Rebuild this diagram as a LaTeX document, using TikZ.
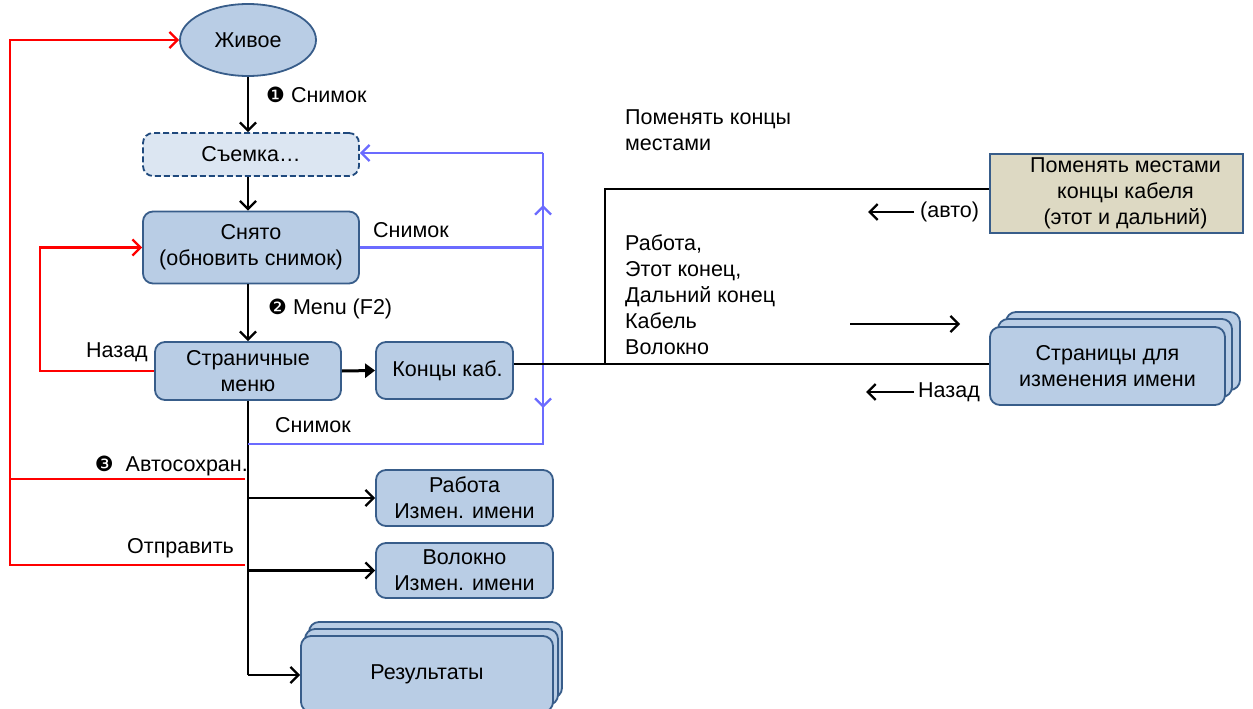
\documentclass[tikz,border=0pt]{standalone}
\usepackage{fontspec}
\setmainfont{Liberation Sans}
\newfontfamily\dingfont{DejaVu Sans}
\usetikzlibrary{shapes.geometric,arrows.meta,positioning}
\definecolor{boxfill}{HTML}{B9CDE5}
\definecolor{boxline}{HTML}{385D8A}
\definecolor{shotfill}{HTML}{DCE6F2}
\definecolor{shotline}{HTML}{1F497D}
\definecolor{swapfill}{HTML}{DDD9C3}
\definecolor{snapline}{HTML}{6B6BFF}
\definecolor{backline}{HTML}{FF0000}
\newcommand{\ding}[1]{{\dingfont\fontsize{21}{21}\selectfont#1}}
\begin{document}
\begin{tikzpicture}[x=1pt, y=-1pt, font=\fontsize{21.5}{26}\selectfont,
  state/.style={draw=boxline, fill=boxfill, line width=1.8pt, rounded corners=10pt, align=center, inner sep=2pt},
  flow/.style={line width=2.3pt, -{Straight Barb[length=8pt,width=16pt,line width=2.3pt]}},
  snap/.style={draw=snapline, line width=2.3pt},
  back/.style={draw=backline, line width=2.8pt},
  tip/.style={-{Straight Barb[length=8pt,width=16pt,line width=2.3pt]}},
  lbl/.style={inner sep=0pt}]
\useasboundingbox (0,0) rectangle (1253,709);

% main states
\node (live) at (248,40) [ellipse, draw=boxline, fill=boxfill, line width=1.8pt, minimum width=136pt, minimum height=72pt] {Живое};
\node (shot) at (251,154.5) [state, fill=shotfill, draw=shotline, dashed, dash pattern=on 6pt off 3pt, minimum width=216pt, minimum height=43pt] {Съемка…};
\node (taken) at (251,247.5) [state, minimum width=216pt, minimum height=72pt] {Снято\\(обновить снимок)};
\node (menu) at (248,371) [state, minimum width=186pt, minimum height=58pt] {Страничные\\меню};
\node (ends) at (444.5,370.5) [state, minimum width=137pt, minimum height=57pt] {\hspace*{6pt}Концы каб.};
\node (work) at (464.5,498) [state, minimum width=177pt, minimum height=56pt] {Работа\\Измен. имени};
\node (fiber) at (464.5,570.5) [state, minimum width=177pt, minimum height=55pt] {Волокно\\Измен. имени};

% results stack
\node (results3) at (435.5,660) [state, minimum width=253pt, minimum height=76pt] {};
\node (results2) at (431.5,667) [state, minimum width=253pt, minimum height=76pt] {};
\node (results) at (427,674) [state, minimum width=252pt, minimum height=76pt] {Результаты};

% right side
\node (swap) at (1116.5,193.5) [draw=boxline, fill=swapfill, line width=1.8pt, align=center, minimum width=253pt, minimum height=79pt] {\hspace*{18pt}Поменять местами\\\hspace*{18pt}концы кабеля\\\hspace*{18pt}(этот и дальний)};
\node (pages3) at (1123,351) [state, minimum width=234pt, minimum height=78pt] {};
\node (pages2) at (1115,358) [state, minimum width=234pt, minimum height=78pt] {};
\node (pages) at (1107.5,366) [state, minimum width=235pt, minimum height=78pt] {Страницы для\\изменения имени};

% main flow
\draw[flow] (live.south) -- (live.south |- shot.north);
\draw[flow] (shot.south -| live.south) -- (taken.north -| live.south);
\draw[flow] (taken.south -| live.south) -- (menu.north);
\draw[line width=3pt, -{Triangle[length=10pt,width=14pt]}] (menu.east) -- (ends.west);
\node (step1) [lbl, anchor=west] at (266,95) {\ding{❶} Снимок};
\node (step2) [lbl, anchor=west] at (268,309) {\ding{❷} Menu (F2)};

% trunk below the menu
\coordinate (trunkend) at (248,675);
\draw[line width=2.3pt] (menu.south) -- (trunkend);
\draw[flow] (work.west -| trunkend) -- (work.west);
\draw[flow] (fiber.west -| trunkend) -- (fiber.west);
\draw[flow] (trunkend) -- (results.west |- trunkend);

% snapshot loop
\coordinate (snaptop) at (543,153);
\coordinate (snapbot) at (543,444);
\draw[snap] (taken.east) -- (taken.east -| snaptop);
\draw[snap] (trunkend |- snapbot) -- (snapbot) -- (snaptop);
\draw[snap, tip] (snaptop) -- (shot.east |- snaptop);
\draw[snap, tip] (taken.east -| snaptop) -- (543,205);
\draw[snap, tip] (taken.east -| snaptop) -- (543,408);
\node (snap1) [lbl, anchor=west] at (373,230) {Снимок};
\node (snap2) [lbl, anchor=west] at (275,425) {Снимок};

% back loops
\coordinate (outerx) at (10,0);
\coordinate (innerx) at (40,0);
\coordinate (autosave) at (245,479);
\coordinate (sendout) at (245,565);
\draw[back] (autosave) -- (autosave -| outerx);
\draw[back, tip] (sendout) -- (sendout -| outerx) -- (live.west -| outerx) -- (live.west);
\draw[back, tip] (menu.west) -- (menu.west -| innerx) -- (taken.west -| innerx) -- (taken.west);
\node (backlbl) [lbl, anchor=east] at (148,352) {Назад};
\node (autolbl) [lbl, anchor=east] at (248,466) {\ding{❸}\ \ Автосохран.};
\node (sendlbl) [lbl, anchor=east] at (234,548) {Отправить};

% cable ends
\coordinate (swapjoin) at (605,364);
\coordinate (swaptop) at (605,189);
\draw[line width=2.3pt] (ends.east |- swapjoin) -- (swapjoin) -- (pages.west |- swapjoin);
\draw[line width=2.3pt] (swapjoin) -- (swaptop) -- (swap.west |- swaptop);
\node (swaplbl) [lbl, anchor=north west, align=left] at (625,110) {Поменять концы\\местами};
\node (namelbl) [lbl, anchor=north west, align=left] at (625,235) {Работа,\\Этот конец,\\Дальний конец\\Кабель\\Волокно};
\node (autoret) [lbl, anchor=west] at (920,212) {(авто)};
\draw[flow] (autoret.west) ++(-6,0) -- ++(-46,0);
\coordinate (goright) at (850,324);
\draw[flow] (goright) -- ++(110,0);
\node (pageback) [lbl, anchor=west] at (918,392) {Назад};
\draw[flow] (pageback.west) ++(-4,0) -- ++(-48,0);
\end{tikzpicture}
\end{document}
